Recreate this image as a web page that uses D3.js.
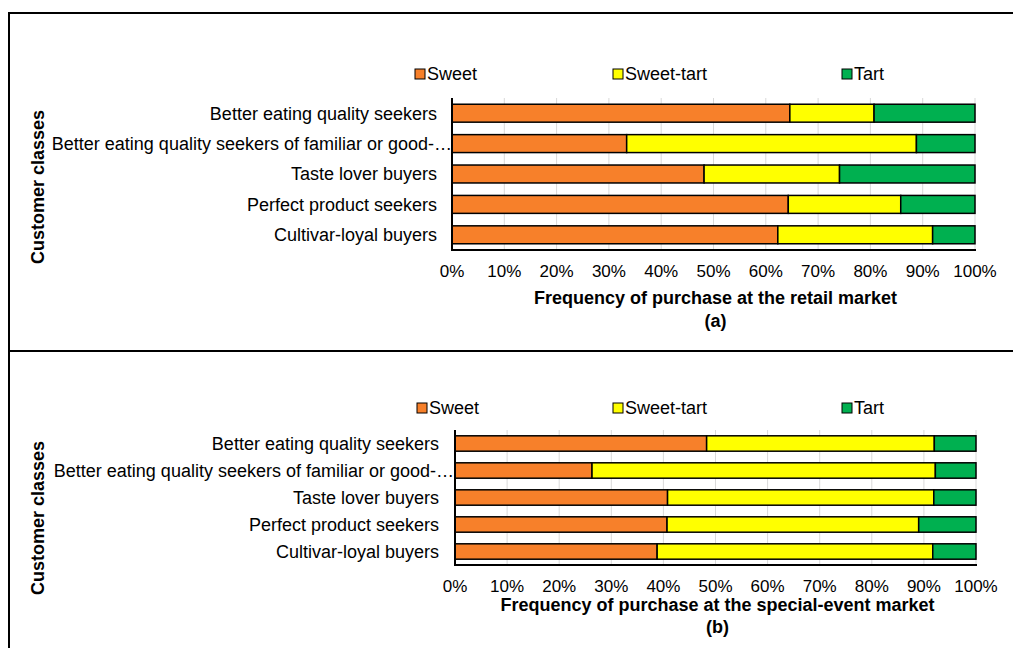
<!DOCTYPE html>
<html>
<head>
<meta charset="utf-8">
<script src="https://cdn.jsdelivr.net/npm/d3@7"></script>
<style>
  html, body { margin: 0; padding: 0; background: #fff; }
  svg { display: block; font-family: "Liberation Sans", Arial, sans-serif; }
</style>
</head>
<body>
<svg id="chart" width="1013" height="648"></svg>
<script>
// Customer classes (top to bottom)
const categories = [
  "Better eating quality seekers",
  "Better eating quality seekers of familiar or good-\u2026",
  "Taste lover buyers",
  "Perfect product seekers",
  "Cultivar-loyal buyers"
];

const seriesNames = ["Sweet", "Sweet-tart", "Tart"];
const seriesColors = ["#f7802a", "#ffff00", "#00b050"];

// Share of purchases (%) at the retail market
const retailSweet     = [64.6, 33.4, 48.2, 64.3, 62.3];
const retailSweetTart = [16.1, 55.4, 25.9, 21.5, 29.6];
const retailTart      = [19.3, 11.2, 25.9, 14.2,  8.1];

// Share of purchases (%) at the special-event market
const eventSweet     = [48.3, 26.3, 40.8, 40.7, 38.8];
const eventSweetTart = [43.7, 65.9, 51.1, 48.3, 52.9];
const eventTart      = [ 8.0,  7.8,  8.1, 11.0,  8.3];

const tickValues = [0, 10, 20, 30, 40, 50, 60, 70, 80, 90, 100];
const tickLabels = ["0%", "10%", "20%", "30%", "40%", "50%", "60%", "70%", "80%", "90%", "100%"];

const svg = d3.select("#chart");

// Frame: left edge, top edge and the divider between the two panels
const frame = svg.append("g").attr("stroke", "#000").attr("stroke-width", 2);
frame.append("line").attr("x1", 9).attr("x2", 9).attr("y1", 12).attr("y2", 648);
frame.append("line").attr("x1", 8).attr("x2", 1013).attr("y1", 13).attr("y2", 13);
frame.append("line").attr("x1", 8).attr("x2", 1013).attr("y1", 351).attr("y2", 351);

function drawPanel(p) {
  const rows = categories.map((c, i) => ({
    category: c,
    "Sweet": p.values[0][i],
    "Sweet-tart": p.values[1][i],
    "Tart": p.values[2][i]
  }));
  const stacked = d3.stack().keys(seriesNames)(rows);

  const x = d3.scaleLinear().domain([0, 100]).range([p.x0, p.x1]);
  const y = d3.scaleBand().domain(categories).range([p.yTop, p.yBottom])
    .paddingInner(p.padding).paddingOuter(p.padding / 2);

  const g = svg.append("g");

  // vertical gridlines
  g.append("g").selectAll("line").data(tickValues.slice(1)).join("line")
    .attr("x1", d => x(d)).attr("x2", d => x(d))
    .attr("y1", p.yTop).attr("y2", p.yBottom)
    .attr("stroke", "#d9d9d9").attr("stroke-width", 1);

  // stacked bars
  g.append("g").selectAll("g").data(stacked).join("g")
    .attr("fill", (d, i) => seriesColors[i])
    .selectAll("rect").data(d => d).join("rect")
    .attr("x", d => x(d[0]))
    .attr("width", d => x(d[1]) - x(d[0]))
    .attr("y", d => y(d.data.category))
    .attr("height", y.bandwidth())
    .attr("stroke", "#000").attr("stroke-width", 1.5);

  // axis lines
  g.append("line").attr("x1", p.x0).attr("x2", p.x0)
    .attr("y1", p.yTop).attr("y2", p.yBottom + 1)
    .attr("stroke", "#000").attr("stroke-width", 2);
  g.append("line").attr("x1", p.x0 - 1).attr("x2", p.x1 + 1)
    .attr("y1", p.yBottom).attr("y2", p.yBottom)
    .attr("stroke", "#000").attr("stroke-width", 2);

  // category labels
  const ellipsisProbe = g.append("text").attr("font-size", 18).text("\u2026");
  const ellipsisW = ellipsisProbe.node().getComputedTextLength();
  ellipsisProbe.remove();
  g.append("g").selectAll("text").data(categories).join("text")
    .attr("x", d => p.x0 - p.labelGap + (d.endsWith("\u2026") ? ellipsisW - 3 : 0))
    .attr("y", d => y(d) + y.bandwidth() / 2)
    .attr("dy", "0.35em")
    .attr("text-anchor", "end")
    .attr("font-size", 18).attr("fill", "#000")
    .text(d => d);

  // tick labels
  g.append("g").selectAll("text").data(tickValues).join("text")
    .attr("x", d => x(d)).attr("y", p.tickY).attr("dy", "0.35em")
    .attr("text-anchor", "middle").attr("font-size", 17).attr("fill", "#000")
    .text((d, i) => tickLabels[i]);

  // axis titles
  g.append("text").attr("x", (p.x0 + p.x1) / 2 + 2).attr("y", p.titleY).attr("dy", "0.35em")
    .attr("text-anchor", "middle").attr("font-size", 18).attr("font-weight", "bold")
    .text(p.title);
  g.append("text").attr("x", (p.x0 + p.x1) / 2 + 2).attr("y", p.letterY).attr("dy", "0.35em")
    .attr("text-anchor", "middle").attr("font-size", 18).attr("font-weight", "bold")
    .text(p.letter);
  g.append("text")
    .attr("transform", `translate(38,${p.yTitleY}) rotate(-90)`)
    .attr("dy", "0.35em")
    .attr("text-anchor", "middle").attr("font-size", 18).attr("font-weight", "bold")
    .text("Customer classes");

  // legend
  const lg = g.append("g").selectAll("g").data(seriesNames).join("g")
    .attr("transform", (d, i) => `translate(${p.legendX[i]},${p.legendY})`);
  lg.append("rect").attr("x", 0).attr("y", -5).attr("width", 10).attr("height", 10)
    .attr("fill", (d, i) => seriesColors[i]).attr("stroke", "#000").attr("stroke-width", 1);
  lg.append("text").attr("x", 12).attr("y", 0).attr("dy", "0.35em")
    .attr("font-size", 18).attr("fill", "#000").text(d => d);
}

drawPanel({
  values: [retailSweet, retailSweetTart, retailTart],
  x0: 452, x1: 975, yTop: 98, yBottom: 250, padding: 0.41, labelGap: 15,
  tickY: 271, titleY: 298, letterY: 321, yTitleY: 187,
  legendY: 74, legendX: [415, 613, 842],
  title: "Frequency of purchase at the retail market", letter: "(a)"
});

drawPanel({
  values: [eventSweet, eventSweetTart, eventTart],
  x0: 455, x1: 976, yTop: 430, yBottom: 565, padding: 0.43, labelGap: 16,
  tickY: 586, titleY: 605, letterY: 627, yTitleY: 518,
  legendY: 408, legendX: [417, 613, 842],
  title: "Frequency of purchase at the special-event market", letter: "(b)"
});
</script>
</body>
</html>
